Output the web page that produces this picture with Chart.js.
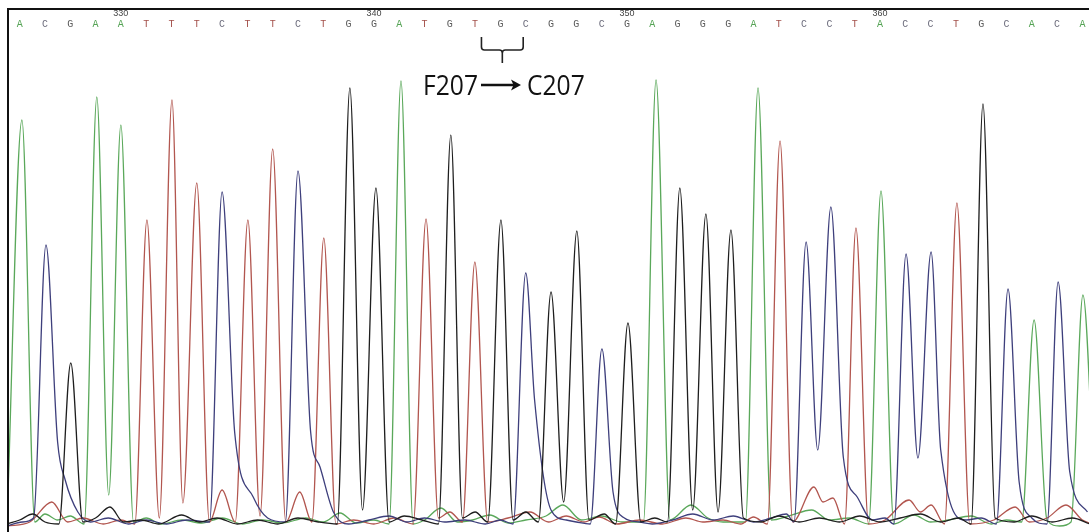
<!DOCTYPE html>
<html>
<head>
<meta charset="utf-8">
<script src="https://cdn.jsdelivr.net/npm/chart.js@4/dist/chart.umd.min.js"></script>
<style>
  html, body { margin: 0; padding: 0; background: #fff; }
  canvas { display: block; }
</style>
</head>
<body>
<canvas id="trace" width="1089" height="532"></canvas>
<script>
// ---------- Data ----------
const firstBase = 326;
const baseCalls = ["A","C","G","A","A","T","T","T","C","T","T","C","T","G",
                   "G","A","T","G","T","G","C","G","G","C","G","A","G","G",
                   "G","A","T","C","C","T","A","C","C","T","G","C","A","C","A"];
const positionTicks = [330, 340, 350, 360];

// [base position, signal] for each dye channel
const traceA = [
  [325.5, 8], [326.09, 412], [326.6, 10], [327.0, 18], [327.5, 12], [328.0, 16],
  [328.55, 8], [329.05, 435], [329.52, 37], [330.0, 407], [330.5, 10], [331.0, 14],
  [331.6, 8], [332.4, 12], [333.2, 9], [334.0, 14], [334.8, 8], [335.6, 12],
  [336.4, 9], [337.3, 14], [338.0, 10], [338.66, 19], [339.3, 9], [340.0, 12],
  [340.6, 8], [341.07, 451], [341.55, 8], [342.0, 12], [342.65, 24], [343.3, 10],
  [343.9, 12], [344.58, 17], [345.3, 9], [346.0, 12], [346.8, 16], [347.47, 27],
  [348.2, 12], [349.0, 16], [349.8, 10], [350.65, 10], [351.15, 452], [351.7, 12],
  [352.53, 27], [353.2, 14], [353.8, 10], [354.68, 10], [355.18, 444], [355.7, 12],
  [356.4, 16], [357.3, 22], [358.0, 12], [358.8, 14], [359.55, 8], [360.04, 341],
  [360.55, 8], [361.34, 17], [362.0, 10], [362.7, 12], [363.6, 16], [364.4, 8],
  [365.0, 12], [365.6, 10], [366.09, 212], [366.6, 12], [367.1, 6], [367.55, 10],
  [368.02, 237], [368.5, 20]
];
const traceC = [
  [325.5, 6], [326.1, 10], [326.55, 14], [327.04, 287], [327.5, 90], [327.8, 52],
  [328.3, 20], [328.8, 10], [329.5, 14], [330.3, 8], [331.0, 12], [331.8, 8],
  [332.6, 12], [333.5, 10], [334.0, 340], [334.5, 99], [335.23, 35], [335.8, 14],
  [336.5, 10], [337.0, 361], [337.5, 100], [337.87, 65], [338.4, 20], [339.0, 8],
  [339.8, 12], [340.6, 16], [341.3, 10], [342.0, 14], [342.8, 10], [343.6, 12],
  [344.4, 8], [345.0, 12], [345.5, 8], [346.0, 259], [346.35, 132], [347.0, 22],
  [347.6, 12], [348.0, 10], [348.55, 8], [349.01, 183], [349.45, 40], [349.9, 14],
  [350.5, 10], [351.0, 8], [351.8, 12], [352.6, 18], [353.4, 12], [354.2, 16],
  [355.0, 10], [355.7, 14], [356.3, 18], [356.6, 10], [357.08, 290], [357.54, 82],
  [358.06, 325], [358.55, 75], [359.1, 35], [359.7, 12], [360.2, 14], [360.55, 8],
  [361.03, 278], [361.5, 74], [362.02, 280], [362.4, 82], [363.4, 12], [364.0, 14],
  [364.6, 8], [365.06, 243], [365.5, 50], [366.0, 14], [366.6, 8], [367.04, 250],
  [367.5, 60], [368.2, 20]
];
const traceG = [
  [325.5, 8], [326.0, 12], [326.52, 18], [327.0, 10], [327.55, 8], [328.02, 169],
  [328.5, 10], [329.0, 14], [329.57, 25], [330.1, 10], [330.8, 12], [331.5, 8],
  [332.4, 17], [333.1, 10], [333.8, 14], [334.6, 8], [335.4, 12], [336.2, 8],
  [337.0, 14], [337.8, 10], [338.55, 8], [339.05, 444], [339.55, 22], [340.08, 344],
  [340.6, 10], [341.2, 16], [341.9, 12], [342.55, 8], [343.04, 397], [343.5, 14],
  [344.0, 20], [344.5, 10], [345.02, 312], [345.5, 12], [346.0, 20], [346.5, 10],
  [347.0, 240], [347.5, 30], [348.02, 301], [348.5, 12], [349.1, 18], [349.55, 8],
  [350.04, 209], [350.55, 10], [351.1, 14], [351.6, 10], [352.09, 344], [352.6, 22],
  [353.12, 318], [353.6, 20], [354.11, 302], [354.6, 14], [355.3, 10], [356.0, 16],
  [356.8, 10], [357.6, 14], [358.4, 10], [359.2, 16], [360.0, 10], [360.8, 14],
  [361.6, 18], [362.4, 10], [363.1, 14], [363.6, 8], [364.07, 428], [364.55, 14],
  [365.3, 10], [366.0, 16], [366.8, 10], [367.6, 14], [368.3, 8]
];
const traceT = [
  [325.5, 6], [326.4, 10], [327.27, 30], [327.9, 10], [328.5, 14], [329.3, 8],
  [330.0, 12], [330.55, 8], [331.03, 312], [331.52, 14], [332.02, 432], [332.45, 29],
  [333.0, 349], [333.5, 10], [334.0, 42], [334.52, 10], [335.02, 312], [335.5, 16],
  [336.0, 383], [336.52, 10], [337.07, 40], [337.55, 10], [338.02, 294], [338.5, 8],
  [339.2, 12], [340.0, 8], [340.8, 14], [341.55, 8], [342.06, 313], [342.55, 14],
  [343.0, 20], [343.5, 10], [343.99, 270], [344.5, 10], [345.3, 14], [346.17, 20],
  [346.9, 10], [347.6, 16], [348.3, 10], [348.9, 15], [349.6, 8], [350.5, 12],
  [351.4, 8], [352.33, 14], [353.0, 10], [353.8, 12], [354.5, 8], [355.0, 15],
  [355.55, 8], [356.05, 391], [356.55, 10], [357.39, 45], [357.75, 30], [358.14, 34],
  [358.6, 8], [359.05, 304], [359.55, 8], [360.2, 12], [361.15, 32], [361.6, 20],
  [362.02, 27], [362.55, 8], [363.04, 329], [363.55, 8], [364.5, 12], [365.34, 25],
  [365.9, 10], [366.6, 14], [367.35, 27], [368.0, 12], [368.4, 8]
];

const mutationFrom = "F207";
const mutationTo = "C207";

// ---------- Colours ----------
const traceColors = { A: "#5aa85a", C: "#3e3f7c", G: "#1e1e1e", T: "#b2564f" };
const letterColors = { A: "#54a354", C: "#6c6c7c", G: "#5c5c5c", T: "#a3504a" };

// ---------- Plugin: frame, base calls and mutation note ----------
const chromatogramDecor = {
  id: "chromatogramDecor",
  afterDatasetsDraw(chart) {
    const { ctx, chartArea, scales } = chart;
    const x = scales.x;
    ctx.save();

    // frame (top + left)
    ctx.strokeStyle = "#111";
    ctx.lineWidth = 2;
    ctx.beginPath();
    ctx.moveTo(chartArea.left + 1, chartArea.bottom);
    ctx.lineTo(chartArea.left + 1, chartArea.top + 1);
    ctx.lineTo(chartArea.right, chartArea.top + 1);
    ctx.stroke();

    // base calls
    ctx.textAlign = "center";
    ctx.textBaseline = "middle";
    ctx.font = "10px 'Liberation Mono'";
    baseCalls.forEach((b, i) => {
      ctx.fillStyle = letterColors[b];
      ctx.fillText(b, x.getPixelForValue(firstBase + i), 24.5);
    });

    // position numbers
    ctx.font = "9px 'Liberation Sans'";
    ctx.fillStyle = "#444";
    positionTicks.forEach((p) => {
      ctx.fillText(String(p), x.getPixelForValue(p), 14);
    });

    // bracket over the codon
    const bl = x.getPixelForValue(344.25), br = x.getPixelForValue(345.9);
    const bm = (bl + br) / 2;
    ctx.strokeStyle = "#222";
    ctx.lineWidth = 1.6;
    ctx.beginPath();
    ctx.moveTo(bl, 37);
    ctx.lineTo(bl, 47);
    ctx.quadraticCurveTo(bl, 50, bl + 3, 50);
    ctx.lineTo(bm - 3, 50);
    ctx.quadraticCurveTo(bm, 50, bm, 53);
    ctx.lineTo(bm, 63);
    ctx.moveTo(br, 37);
    ctx.lineTo(br, 47);
    ctx.quadraticCurveTo(br, 50, br - 3, 50);
    ctx.lineTo(bm + 3, 50);
    ctx.quadraticCurveTo(bm, 50, bm, 53);
    ctx.stroke();

    // mutation text
    ctx.fillStyle = "#111";
    ctx.font = "28px 'Open Sans'";
    ctx.textBaseline = "alphabetic";
    ctx.save();
    ctx.translate(478, 95);
    ctx.scale(0.88, 1);
    ctx.textAlign = "right";
    ctx.fillText(mutationFrom, 0, 0);
    ctx.restore();
    ctx.save();
    ctx.translate(527, 95);
    ctx.scale(0.88, 1);
    ctx.textAlign = "left";
    ctx.fillText(mutationTo, 0, 0);
    ctx.restore();

    // arrow
    ctx.strokeStyle = "#111";
    ctx.lineWidth = 2.4;
    ctx.beginPath();
    ctx.moveTo(481, 85);
    ctx.lineTo(514, 85);
    ctx.stroke();
    ctx.beginPath();
    ctx.moveTo(511, 79.5);
    ctx.lineTo(521, 85);
    ctx.lineTo(511, 90.5);
    ctx.lineTo(513.5, 85);
    ctx.closePath();
    ctx.fill();

    ctx.restore();
  },
};

function toPoints(rows) {
  return rows.map(([p, v]) => ({ x: p, y: v }));
}

function channel(base, rows) {
  return {
    label: base,
    data: toPoints(rows),
    borderColor: traceColors[base],
    borderWidth: 1.3,
    pointRadius: 0,
    fill: false,
    cubicInterpolationMode: "monotone",
  };
}

new Chart(document.getElementById("trace"), {
  type: "line",
  data: {
    datasets: [
      channel("G", traceG),
      channel("C", traceC),
      channel("T", traceT),
      channel("A", traceA),
    ],
  },
  options: {
    responsive: false,
    animation: false,
    devicePixelRatio: 1,
    layout: { padding: { left: 7, top: 8, right: 0, bottom: 0 } },
    plugins: { legend: { display: false }, tooltip: { enabled: false } },
    scales: {
      x: { type: "linear", min: 325.5, max: 368.26, display: false },
      y: { min: 0, max: 524, display: false },
    },
  },
  plugins: [chromatogramDecor],
});
</script>
</body>
</html>
